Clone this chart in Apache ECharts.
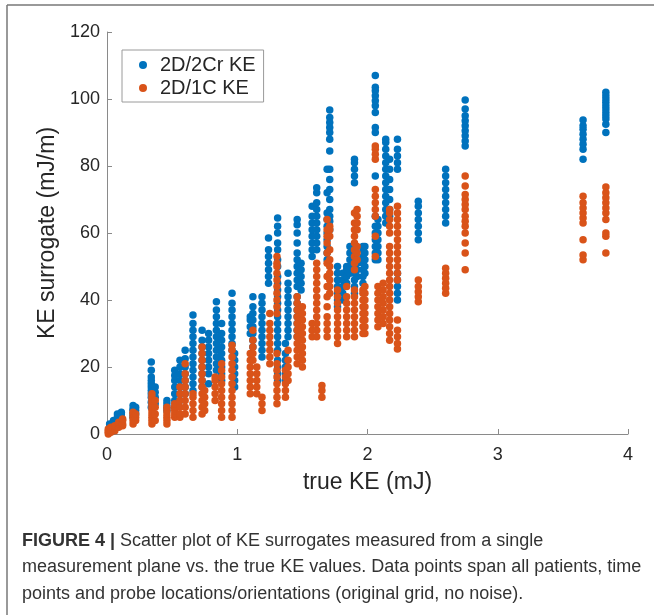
<html>
<head>
<meta charset="utf-8">
<title>KE surrogates</title>
<script src="https://cdn.jsdelivr.net/npm/echarts@6/dist/echarts.min.js"></script>
<style>
  html, body { margin: 0; padding: 0; background: #fff; }
  #main { width: 654px; height: 615px; }
</style>
</head>
<body>
<div id="main"></div>
<script>
// columns of points: [true KE, [surrogate values...]]
var blueCols = [
  [0.02, [0.5, 1, 1.5, 2, 3]],
  [0.05, [1, 2, 3, 4]],
  [0.08, [2, 3, 4, 5, 6]],
  [0.11, [3, 4, 5, 6, 6.5]],
  [0.20, [5, 6, 7, 7.5, 8.5]],
  [0.22, [6, 7, 8]],
  [0.34, [8, 9.5, 11, 12, 13, 14, 15, 16, 17, 19, 21.5]],
  [0.37, [9, 11, 12.5, 14]],
  [0.46, [7, 8, 9, 10]],
  [0.52, [8, 10, 12, 14, 16, 17.5, 19]],
  [0.56, [10, 12, 14, 16, 18, 20, 22]],
  [0.60, [12, 14, 16, 18, 20, 22.5, 25]],
  [0.66, [13, 15, 17, 19, 21, 23, 25, 27, 29, 31, 33, 35.5]],
  [0.73, [14, 16, 18, 20, 22, 24, 26, 28, 31]],
  [0.78, [15, 18, 20, 22, 24, 26, 28, 30]],
  [0.84, [19, 21, 23, 25, 27, 29, 31, 33, 35, 37, 39.5]],
  [0.88, [16, 18, 20, 22, 24, 26, 28, 30, 33]],
  [0.96, [25, 27, 29, 31, 33, 35, 37, 39, 42]],
  [0.98, [14, 16, 18, 20, 22, 24]],
  [1.10, [30, 32, 34, 35]],
  [1.12, [26, 28, 30, 32, 34, 36, 38, 41]],
  [1.19, [23, 25, 27, 29, 31, 33, 35, 37, 39, 41]],
  [1.24, [45, 47, 49, 51, 53, 55, 58.5]],
  [1.31, [16, 18, 20, 22, 25, 27, 29, 31, 33, 35, 37, 39, 41, 43, 45, 47, 50, 52, 55, 57, 60, 62, 64.5]],
  [1.37, [16, 18, 20, 22, 24, 27]],
  [1.39, [29, 31, 33, 35, 37, 39, 41, 43, 45, 48]],
  [1.46, [29, 31, 33, 35, 37, 39, 41, 44, 46, 48, 50, 52, 54, 57, 60, 62.5, 64]],
  [1.49, [43, 45, 47, 49, 51]],
  [1.575, [53, 55, 57, 59, 61, 63, 65, 68]],
  [1.61, [55, 57, 59, 61, 63, 65, 67, 69, 72, 73.5]],
  [1.69, [52, 54, 56, 58, 60, 62, 64, 66, 72, 79]],
  [1.71, [61, 63.5, 65, 67, 70, 73, 76, 79, 84.5, 88, 90, 91.5, 93, 94.5, 96.7]],
  [1.77, [38, 40, 42, 44, 46, 48, 50]],
  [1.81, [40, 42, 44, 46, 48]],
  [1.84, [45, 47, 49, 50]],
  [1.865, [48, 50, 52, 54, 56]],
  [1.90, [42, 44, 46, 48, 50, 52, 54, 75, 77, 79, 81, 82]],
  [1.92, [47, 49, 51, 52]],
  [1.965, [45, 47, 49, 51, 53, 55, 56]],
  [1.98, [48, 50, 52, 54, 56]],
  [2.06, [52, 54, 56, 58, 60, 62, 65, 77, 90, 91.5, 96, 98, 99.5, 101, 102.5, 103.5, 107]],
  [2.08, [52, 54, 56, 58, 60, 62, 64]],
  [2.14, [63, 65, 67, 69, 71, 73, 75, 77, 79, 81, 83, 85, 87, 88]],
  [2.17, [65, 67, 70, 73, 76, 79, 82]],
  [2.23, [40, 42, 44, 46, 48, 79, 81, 83, 85, 88]],
  [2.39, [58, 60, 62, 64, 66, 68, 69.5]],
  [2.60, [63, 65, 67, 69, 71, 73, 75, 77, 79]],
  [2.75, [86, 87.5, 89, 90.5, 92, 93.5, 95, 97, 99.7]],
  [3.655, [82, 85, 86.5, 88, 89.5, 91, 92, 93.7]],
  [3.83, [90, 92.5, 94, 95, 96, 97, 98, 99, 100, 101, 102]]
];

var orangeCols = [
  [0.01, [0, 0.5, 1, 1.5]],
  [0.03, [0.5, 1, 2]],
  [0.06, [1, 2, 2.5]],
  [0.09, [2, 3, 3.5]],
  [0.12, [2.5, 3, 4, 4.5]],
  [0.20, [3, 4, 5, 6, 6.5]],
  [0.22, [4, 5, 6]],
  [0.345, [3, 4, 5, 6, 7, 8, 9, 10, 11, 12]],
  [0.37, [4, 6, 8, 10]],
  [0.46, [3, 4, 5, 6, 7, 8]],
  [0.52, [5, 6, 7, 8, 9]],
  [0.56, [5, 6, 8, 10, 12, 14]],
  [0.60, [6, 8, 10, 12, 14, 16, 18, 21]],
  [0.66, [5, 7, 9, 11, 12]],
  [0.73, [6, 8, 10, 12, 14, 16, 18, 20, 22, 24, 26]],
  [0.75, [7, 9, 11, 13]],
  [0.83, [10, 12, 14, 16, 17]],
  [0.88, [5, 7, 9, 11, 13, 15, 17, 19, 21]],
  [0.96, [5, 7, 9, 11, 13, 15, 17, 19, 21, 23, 25, 26.5]],
  [1.10, [12, 14, 16, 18, 20, 22, 24]],
  [1.12, [22, 24, 26, 28, 31]],
  [1.15, [12, 14, 16, 18, 20]],
  [1.19, [7, 9, 11]],
  [1.25, [21, 23, 25, 27, 29, 31, 33, 36]],
  [1.305, [9, 11, 13, 15, 17, 19, 21, 24, 36, 38, 40, 42, 44, 46, 48, 50, 51, 53]],
  [1.37, [11, 13, 15, 17, 19]],
  [1.39, [16, 18, 20, 22, 25]],
  [1.46, [21, 23, 25, 27, 29, 31, 33, 35, 37, 39, 41]],
  [1.50, [20, 22, 24, 26, 28, 30, 32, 34, 36, 38]],
  [1.575, [29, 31, 33]],
  [1.61, [29, 31, 33, 35, 37, 39, 41, 43, 45, 47, 49, 51]],
  [1.65, [11, 13, 14.5]],
  [1.69, [29, 31, 33, 35, 38, 41, 44, 47, 51, 54, 57, 59, 61, 64]],
  [1.71, [42, 44, 46, 48, 50, 52, 55, 59, 61, 62]],
  [1.77, [27, 29, 31, 33, 35, 37, 39, 41, 43]],
  [1.84, [29, 31, 33, 35, 37, 39, 41, 44]],
  [1.90, [29, 31, 33, 35, 37, 39, 41, 43, 49, 51, 53, 55, 57, 59, 61, 63, 66]],
  [1.92, [52, 54, 56, 61, 63, 65, 67]],
  [1.965, [30, 32, 34, 36, 38, 40, 42, 43]],
  [1.98, [30, 32, 34, 36, 38, 40, 42, 44]],
  [2.06, [53, 59, 65, 67, 69, 71, 73, 82, 83.5, 85, 86]],
  [2.08, [32, 34, 36, 38, 40, 42, 44]],
  [2.12, [33, 35, 37, 39, 41, 43, 45]],
  [2.17, [28, 30, 32, 34, 36, 38, 40, 42, 44, 46, 48, 50, 52, 54, 56, 60, 62, 64, 66, 67]],
  [2.23, [25.4, 27, 29, 31, 34, 46, 48, 50, 52, 54, 56, 58, 60, 62, 64, 66, 68]],
  [2.39, [39.5, 41, 42.5, 44, 46]],
  [2.60, [42, 43.5, 45, 46.5, 48, 49.5]],
  [2.75, [49, 54, 57, 60, 62, 63.5, 65, 67, 68.5, 70, 71.5, 74, 77]],
  [3.655, [52, 53.4, 58, 63, 64.5, 66, 67.5, 69, 71]],
  [3.83, [54, 59, 60, 64, 66, 67.5, 69, 70.5, 72, 73.7]]
];

var seriesNames = ['2D/2Cr KE', '2D/1C KE'];
var xTicks = [0, 1, 2, 3, 4];
var yTicks = [0, 20, 40, 60, 80, 100, 120];

var captionLines = [
  ['FIGURE 4 |', ' Scatter plot of KE surrogates measured from a single'],
  ['', 'measurement plane vs. the true KE values. Data points span all patients, time'],
  ['', 'points and probe locations/orientations (original grid, no noise).']
];

function toPoints(cols) {
  var pts = [];
  cols.forEach(function (c) {
    c[1].forEach(function (y) { pts.push([c[0], y]); });
  });
  return pts;
}

var font = '"Liberation Sans", Arial, Helvetica, sans-serif';
var axisGray = '#8a8a8a';
var textCol = '#262626';

var caption = captionLines.map(function (l, i) {
  return {
    type: 'text',
    left: 22,
    top: 532 + i * 26.5,
    style: {
      text: (l[0] ? '{b|' + l[0] + '}' : '') + '{r|' + l[1] + '}',
      rich: {
        b: { fontFamily: font, fontSize: 18, fontWeight: 'bold', fill: '#333' },
        r: { fontFamily: font, fontSize: 18, fill: '#333' }
      }
    }
  };
});

var option = {
  backgroundColor: '#fff',
  animation: false,
  textStyle: { fontFamily: font },
  grid: { left: 107, right: 26, top: 32, bottom: 181 },
  legend: {
    left: 122,
    top: 50,
    orient: 'vertical',
    data: seriesNames,
    icon: 'circle',
    itemWidth: 8,
    itemHeight: 8,
    itemGap: 3,
    padding: [5, 8, 4, 17],
    borderColor: '#9a9a9a',
    borderWidth: 1,
    backgroundColor: '#fff',
    textStyle: { fontSize: 20, color: textCol, fontFamily: font, padding: [0, 0, 0, 8] }
  },
  xAxis: {
    type: 'value',
    min: 0,
    max: 4,
    interval: 1,
    name: 'true KE (mJ)',
    nameLocation: 'middle',
    nameGap: 37,
    nameTextStyle: { fontSize: 23, color: textCol, fontFamily: font },
    axisLine: { lineStyle: { color: axisGray, width: 1 } },
    axisTick: { inside: true, length: 5, lineStyle: { color: axisGray } },
    axisLabel: {
      fontSize: 18, color: textCol, margin: 12,
      formatter: function (v) { return xTicks.indexOf(v) >= 0 ? String(v) : ''; }
    },
    splitLine: { show: false }
  },
  yAxis: {
    type: 'value',
    min: 0,
    max: 120,
    interval: 20,
    name: 'KE surrogate (mJ/m)',
    nameLocation: 'middle',
    nameGap: 47,
    nameTextStyle: { fontSize: 23, color: textCol, fontFamily: font },
    axisLine: { show: true, lineStyle: { color: axisGray, width: 1 } },
    axisTick: { show: true, inside: true, length: 5, lineStyle: { color: axisGray } },
    axisLabel: {
      fontSize: 18, color: textCol, margin: 7,
      formatter: function (v) { return yTicks.indexOf(v) >= 0 ? String(v) : ''; }
    },
    splitLine: { show: false }
  },
  series: [
    {
      name: seriesNames[0],
      type: 'scatter',
      symbolSize: 7.5,
      itemStyle: { color: '#0072BD', opacity: 1 },
      data: toPoints(blueCols)
    },
    {
      name: seriesNames[1],
      type: 'scatter',
      symbolSize: 7.5,
      itemStyle: { color: '#D95319', opacity: 1 },
      data: toPoints(orangeCols)
    }
  ],
  graphic: [
    { type: 'line', shape: { x1: 7, y1: 5, x2: 7, y2: 615 }, style: { stroke: '#777', lineWidth: 1.5 } },
    { type: 'line', shape: { x1: 7, y1: 5, x2: 654, y2: 5 }, style: { stroke: '#777', lineWidth: 1.5 } }
  ].concat(caption)
};

var myChart = echarts.init(document.getElementById('main'), null, { renderer: 'canvas' });
myChart.setOption(option);
</script>
</body>
</html>
